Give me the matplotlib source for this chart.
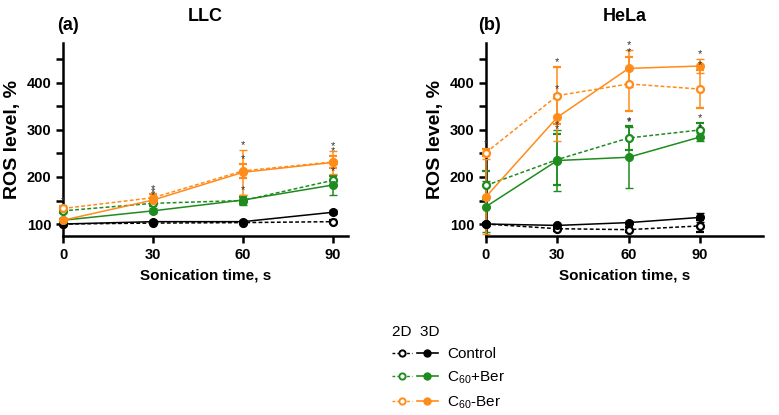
import matplotlib
matplotlib.use("Agg")
import matplotlib.pyplot as plt
from matplotlib.lines import Line2D
from matplotlib.legend_handler import HandlerTuple
from matplotlib.ticker import MultipleLocator

plt.rcParams['font.family'] = ['Liberation Sans', 'DejaVu Sans']

time_s = [0, 30, 60, 90]
x_ticks = [0, 30, 60, 90]
y_ticks = [100, 200, 300, 400]
panel_titles = ["LLC", "HeLa"]
panel_letters = ["(a)", "(b)"]

# LLC
llc_ctrl_2d = [100, 102, 103, 105]
llc_ctrl_3d = [100, 105, 105, 125]
llc_ber_add_2d = [128, 144, 150, 193]
llc_ber_add_3d = [108, 128, 151, 183]
llc_ber_conj_2d = [133, 156, 213, 232]
llc_ber_conj_3d = [108, 151, 210, 231]
llc_err_ctrl_2d = [2, 2, 2, 3]
llc_err_ctrl_3d = [2, 3, 3, 4]
llc_err_ber_add_2d = [5, 6, 8, 10]
llc_err_ber_add_3d = [4, 5, 10, 22]
llc_err_ber_conj_2d = [5, 8, 15, 12]
llc_err_ber_conj_3d = [4, 6, 48, 25]
llc_star_ber_add_2d = [False, True, False, True]
llc_star_ber_add_3d = [False, False, True, False]
llc_star_ber_conj_2d = [True, True, True, True]
llc_star_ber_conj_3d = [False, True, True, True]

# HeLa
hela_ctrl_2d = [100, 90, 88, 96]
hela_ctrl_3d = [100, 97, 103, 114]
hela_ber_add_2d = [182, 237, 283, 300]
hela_ber_add_3d = [137, 235, 242, 285]
hela_ber_conj_2d = [252, 373, 398, 387]
hela_ber_conj_3d = [158, 327, 431, 436]
hela_err_ctrl_2d = [3, 5, 5, 12]
hela_err_ctrl_3d = [3, 4, 4, 10]
hela_err_ber_add_2d = [30, 55, 25, 15]
hela_err_ber_add_3d = [55, 65, 65, 8]
hela_err_ber_conj_2d = [8, 60, 58, 40]
hela_err_ber_conj_3d = [80, 50, 40, 15]
hela_star_ber_add_2d = [False, True, True, True]
hela_star_ber_add_3d = [False, True, True, True]
hela_star_ber_conj_2d = [True, True, True, True]
hela_star_ber_conj_3d = [False, True, True, True]

BLACK = "#000000"
GREEN = "#1E8C1E"
ORANGE = "#FF8C1A"

fig = plt.figure(figsize=(7.79, 4.15), dpi=100)
ax_a = fig.add_axes([63/779, 1-236/415, (348-63)/779, (236-43)/415])
ax_b = fig.add_axes([486/779, 1-236/415, (763-486)/779, (236-43)/415])

panels = [
    (ax_a, 95,
     [(llc_ctrl_2d, llc_err_ctrl_2d, BLACK, True, None),
      (llc_ctrl_3d, llc_err_ctrl_3d, BLACK, False, None),
      (llc_ber_add_2d, llc_err_ber_add_2d, GREEN, True, llc_star_ber_add_2d),
      (llc_ber_add_3d, llc_err_ber_add_3d, GREEN, False, llc_star_ber_add_3d),
      (llc_ber_conj_2d, llc_err_ber_conj_2d, ORANGE, True, llc_star_ber_conj_2d),
      (llc_ber_conj_3d, llc_err_ber_conj_3d, ORANGE, False, llc_star_ber_conj_3d)]),
    (ax_b, 116.5,
     [(hela_ctrl_2d, hela_err_ctrl_2d, BLACK, True, None),
      (hela_ctrl_3d, hela_err_ctrl_3d, BLACK, False, None),
      (hela_ber_add_2d, hela_err_ber_add_2d, GREEN, True, hela_star_ber_add_2d),
      (hela_ber_add_3d, hela_err_ber_add_3d, GREEN, False, hela_star_ber_add_3d),
      (hela_ber_conj_2d, hela_err_ber_conj_2d, ORANGE, True, hela_star_ber_conj_2d),
      (hela_ber_conj_3d, hela_err_ber_conj_3d, ORANGE, False, hela_star_ber_conj_3d)]),
]

for i, (ax, xmax, series) in enumerate(panels):
    for vals, err, col, is2d, stars in series:
        ls = (0, (2.5, 1.5)) if is2d else '-'
        ax.errorbar(time_s, vals, yerr=err, color=col, ecolor=col,
                    linestyle=ls, linewidth=1.1, elinewidth=1.1,
                    capsize=3, capthick=1.1,
                    marker='o', markersize=5.5 if not is2d else 5,
                    markerfacecolor='white' if is2d else col,
                    markeredgecolor=col, markeredgewidth=1.6 if is2d else 1,
                    clip_on=False, zorder=3)
        if stars is not None:
            for t, v, e, s in zip(time_s, vals, err, stars):
                if s:
                    ax.annotate("*", xy=(t, v + e), xytext=(0, 0),
                                textcoords='offset points', ha='center',
                                va='bottom', fontsize=8, color='#333333',
                                zorder=4)
    ax.set_xlim(0, xmax)
    ax.set_ylim(74.5, 485)
    ax.set_xticks(x_ticks)
    ax.set_yticks(y_ticks)
    ax.yaxis.set_minor_locator(MultipleLocator(50))
    for sp in ['top', 'right']:
        ax.spines[sp].set_visible(False)
    for sp in ['left', 'bottom']:
        ax.spines[sp].set_linewidth(1.8)
    ax.tick_params(axis='both', which='both', direction='out', length=5,
                   width=1.8, labelsize=10.5)
    ax.tick_params(axis='y', which='minor', length=5, width=1.8)
    for lab in ax.get_xticklabels() + ax.get_yticklabels():
        lab.set_fontweight('bold')
    ax.set_xlabel("Sonication time, s", fontsize=11, fontweight='bold',
                  labelpad=5)
    ax.set_ylabel("ROS level, %", fontsize=14, fontweight='bold', labelpad=4)
    ax.set_title(panel_titles[i], fontsize=13, fontweight='bold', pad=16)
    ax.text(-0.02 if i == 0 else -0.03, 1.09, panel_letters[i],
            transform=ax.transAxes, fontsize=13, fontweight='bold',
            ha='left', va='center')

# Legend
legend_labels = ["Control", r"C$_\mathregular{60}$+Ber", r"C$_\mathregular{60}$-Ber"]
legend_colors = [BLACK, GREEN, ORANGE]
handles = []
for col in legend_colors:
    h2 = Line2D([], [], color=col, linestyle=(0, (2, 1.5)), linewidth=1,
                marker='o', markersize=4.5, markerfacecolor='white',
                markeredgecolor=col, markeredgewidth=1.4)
    h3 = Line2D([], [], color=col, linestyle='-', linewidth=1.2,
                marker='o', markersize=5, markerfacecolor=col,
                markeredgecolor=col)
    handles.append((h2, h3))
leg = fig.legend(handles, legend_labels,
                 handler_map={tuple: HandlerTuple(ndivide=None, pad=0.35)},
                 loc='upper left', bbox_to_anchor=(378/779, 1-311/415),
                 frameon=False, fontsize=11, handlelength=3.0,
                 handletextpad=0.6, labelspacing=0.55,
                 title="2D  3D", title_fontsize=11, alignment='left')

fig.savefig("out.png", dpi=100)
